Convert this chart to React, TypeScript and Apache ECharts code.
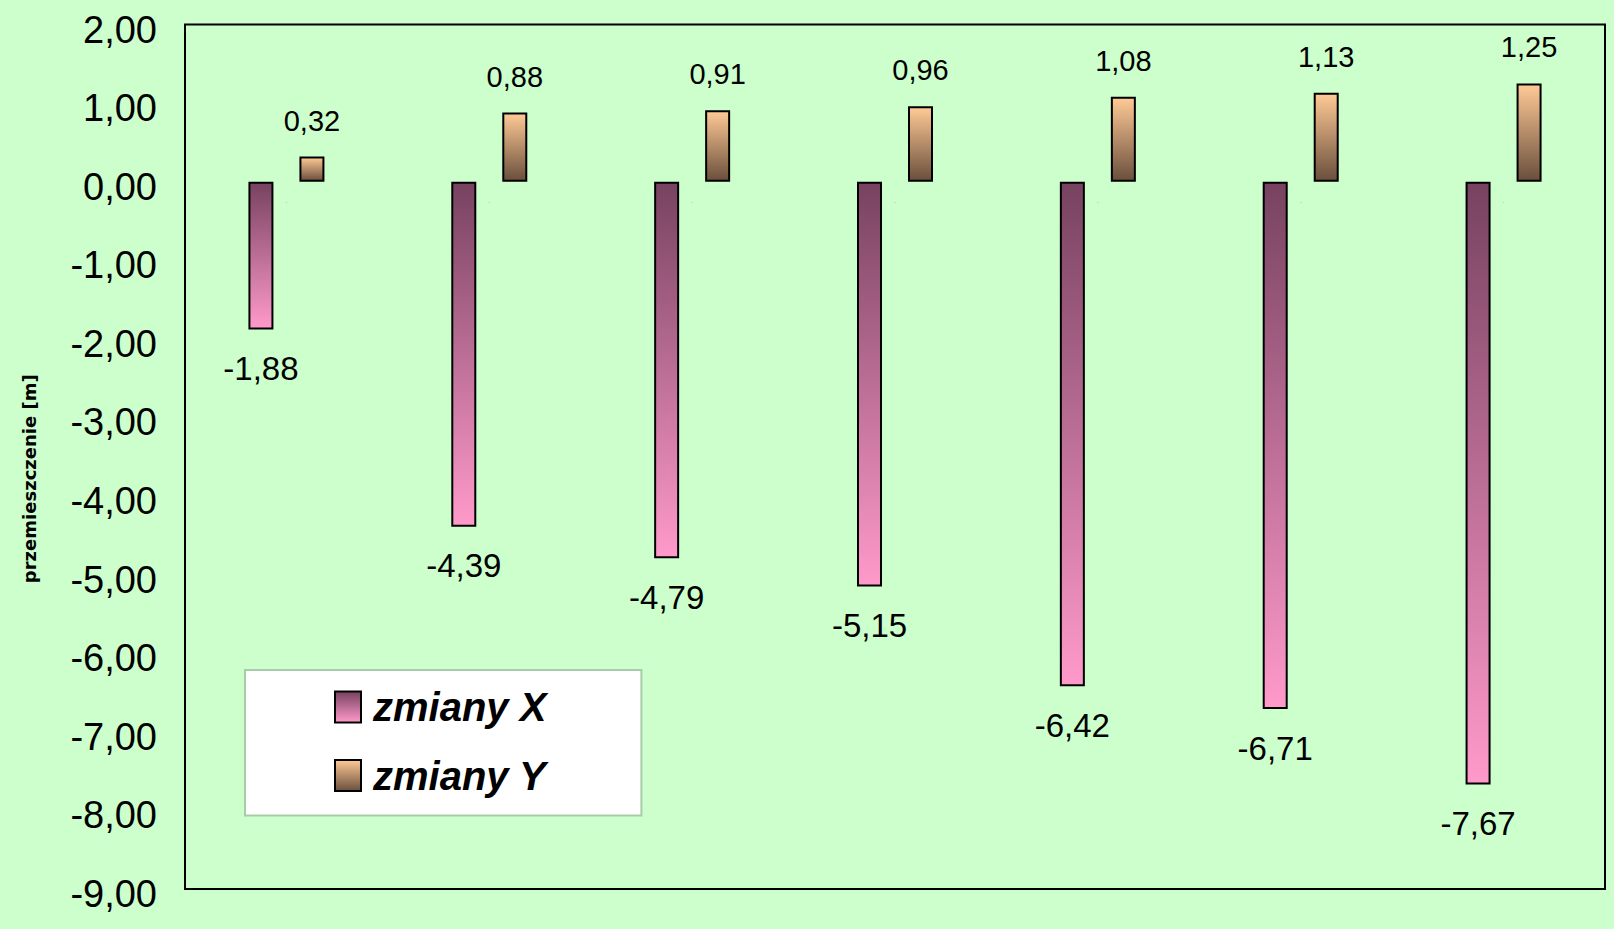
import React, { useEffect, useRef } from "react";
import * as echarts from "echarts";

const categories = ["1", "2", "3", "4", "5", "6", "7"];
const seriesNames = ["zmiany X", "zmiany Y"];
const valuesX = [-1.88, -4.39, -4.79, -5.15, -6.42, -6.71, -7.67];
const valuesY = [0.32, 0.88, 0.91, 0.96, 1.08, 1.13, 1.25];
const yMin = -9;
const yMax = 2;
const yInterval = 1;
const yAxisName = "przemieszczenie [m]";

const SANS = "'Liberation Sans', Arial, sans-serif";
const fmt = (v: number) => v.toFixed(2).replace(".", ",");

export default function App() {
  const ref = useRef<HTMLDivElement>(null);
  useEffect(() => {
    if (!ref.current) return;
    const chart = echarts.init(ref.current, undefined, { renderer: "svg" });
    const gradX = new echarts.graphic.LinearGradient(0, 0, 0, 1, [
      { offset: 0, color: "#774260" },
      { offset: 1, color: "#ff9acb" },
    ]);
    const gradY = new echarts.graphic.LinearGradient(0, 0, 0, 1, [
      { offset: 0, color: "#ffca96" },
      { offset: 1, color: "#6a4f3c" },
    ]);
    chart.setOption({
      animation: false,
      backgroundColor: "#ccffcc",
      grid: {
        left: 185,
        top: 24.5,
        right: 9,
        bottom: 40,
        show: true,
        borderColor: "#000",
        borderWidth: 2,
        backgroundColor: "#ccffcc",
      },
      legend: {
        orient: "vertical",
        left: 245,
        top: 670,
        data: seriesNames,
        padding: [17, 95, 20, 89],
        itemWidth: 26,
        itemHeight: 31,
        itemGap: 28.5,
        backgroundColor: "#ffffff",
        borderColor: "#a8cca8",
        borderWidth: 2,
        icon: "rect",
        textStyle: {
          fontFamily: SANS,
          fontSize: 40,
          fontWeight: "bold",
          fontStyle: "italic",
          color: "#000",
          padding: [0, 0, 0, 7],
        },
      },
      xAxis: {
        type: "category",
        data: categories,
        axisLine: { show: false },
        axisTick: { show: false },
        splitLine: { show: false },
        axisLabel: {
          margin: -691,
          fontSize: 6,
          color: "#667766",
          formatter: () => ".",
        },
      },
      yAxis: {
        type: "value",
        min: yMin,
        max: yMax,
        interval: yInterval,
        name: yAxisName,
        nameLocation: "middle",
        nameRotate: 90,
        nameGap: 147,
        nameTextStyle: {
          fontFamily: "'DejaVu Sans', sans-serif",
          fontWeight: "bold",
          fontSize: 18,
          color: "#000",
          padding: [0, 44, 0, 0],
        },
        axisLine: { show: false },
        axisTick: { show: false },
        splitLine: { show: false },
        axisLabel: {
          margin: 28,
          fontSize: 38,
          fontFamily: SANS,
          color: "#000",
          verticalAlign: "top",
          lineHeight: 10,
          formatter: (v: number) => fmt(v),
        },
      },
      series: [
        {
          name: seriesNames[0],
          type: "bar",
          data: valuesX,
          barWidth: 25,
          barGap: "104%",
          itemStyle: { color: gradX, borderColor: "#000", borderWidth: 2 },
          label: {
            show: true,
            position: "bottom",
            distance: 22.5,
            fontSize: 33,
            fontFamily: SANS,
            color: "#000",
            formatter: (p: any) => fmt(p.value),
          },
        },
        {
          name: seriesNames[1],
          type: "bar",
          data: valuesY,
          barWidth: 25,
          itemStyle: { color: gradY, borderColor: "#000", borderWidth: 2 },
          label: {
            show: true,
            position: "top",
            distance: 21.5,
            fontSize: 29,
            fontFamily: SANS,
            color: "#000",
            formatter: (p: any) => fmt(p.value),
          },
        },
      ],
    });
    return () => chart.dispose();
  }, []);
  return (
    <div
      ref={ref}
      style={{ position: "fixed", left: 0, top: 0, width: 1614, height: 929, background: "#ccffcc" }}
    />
  );
}
